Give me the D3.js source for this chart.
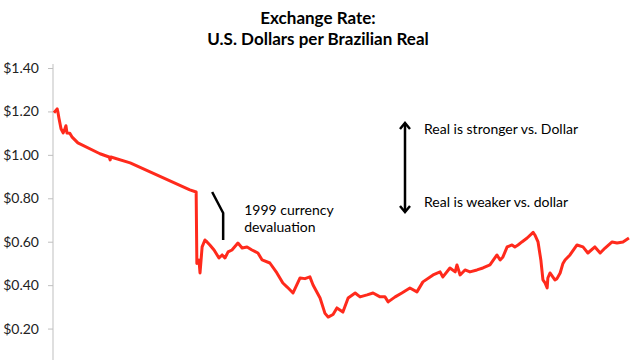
<!DOCTYPE html>
<html>
<head>
<meta charset="utf-8">
<script src="https://cdn.jsdelivr.net/npm/d3@7"></script>
<style>
  html, body { margin: 0; padding: 0; background: #fff; }
  svg { display: block; font-family: Lato, "Open Sans", sans-serif; }
</style>
</head>
<body>
<svg id="chart" width="640" height="360"></svg>
<script>
const titleLines = ["Exchange Rate:", "U.S. Dollars per Brazilian Real"];
const yTicks = [0.2, 0.4, 0.6, 0.8, 1.0, 1.2, 1.4];
const years = [
  1995.00, 1995.09, 1995.11, 1995.14, 1995.20, 1995.26, 1995.30, 1995.34, 1995.37, 1995.45,
  1995.51, 1995.68, 1996.31, 1996.57, 1996.60, 1996.62, 1997.17, 1998.87, 1999.05, 1999.07,
  1999.13, 1999.16, 1999.22, 1999.30, 1999.36, 1999.44, 1999.56, 1999.70, 1999.79, 1999.87,
  1999.96, 2000.07, 2000.24, 2000.36, 2000.50, 2000.64, 2000.81, 2000.93, 2001.15, 2001.35,
  2001.52, 2001.65, 2001.81, 2002.01, 2002.15, 2002.29, 2002.38, 2002.58, 2002.72, 2002.81,
  2002.95, 2003.06, 2003.23, 2003.38, 2003.58, 2003.72, 2003.92, 2004.09, 2004.29, 2004.43,
  2004.52, 2004.72, 2004.91, 2005.14, 2005.34, 2005.51, 2005.80, 2006.00, 2006.08, 2006.28,
  2006.43, 2006.48, 2006.57, 2006.71, 2006.85, 2007.05, 2007.22, 2007.42, 2007.62, 2007.71,
  2007.79, 2007.91, 2008.05, 2008.13, 2008.22, 2008.33, 2008.48, 2008.65, 2008.70, 2008.79,
  2008.87, 2008.93, 2008.99, 2009.05, 2009.07, 2009.13, 2009.27, 2009.33, 2009.42, 2009.50,
  2009.56, 2009.70, 2009.90, 2010.07, 2010.21, 2010.41, 2010.56, 2010.70, 2010.90, 2011.04,
  2011.21, 2011.38
];
const usdPerReal = [
  1.194, 1.212, 1.198, 1.170, 1.120, 1.101, 1.115, 1.134, 1.101, 1.100,
  1.083, 1.055, 1.005, 0.990, 0.977, 0.990, 0.963, 0.839, 0.829, 0.500,
  0.516, 0.456, 0.576, 0.608, 0.599, 0.585, 0.562, 0.525, 0.539, 0.525,
  0.553, 0.562, 0.594, 0.571, 0.576, 0.562, 0.548, 0.516, 0.502, 0.456,
  0.410, 0.390, 0.364, 0.433, 0.430, 0.438, 0.401, 0.341, 0.270, 0.253,
  0.265, 0.295, 0.276, 0.341, 0.364, 0.346, 0.355, 0.364, 0.346, 0.346,
  0.323, 0.346, 0.364, 0.387, 0.369, 0.415, 0.447, 0.461, 0.438, 0.479,
  0.461, 0.493, 0.447, 0.470, 0.461, 0.470, 0.479, 0.493, 0.539, 0.516,
  0.530, 0.576, 0.585, 0.576, 0.585, 0.599, 0.617, 0.643, 0.631, 0.599,
  0.516, 0.424, 0.410, 0.387, 0.433, 0.456, 0.424, 0.430, 0.456, 0.500,
  0.516, 0.539, 0.585, 0.576, 0.548, 0.576, 0.548, 0.571, 0.599, 0.594,
  0.599, 0.617
];
const annotations = {
  devaluation: ["1999 currency", "devaluation"],
  stronger: "Real is stronger vs. Dollar",
  weaker: "Real is weaker vs. dollar"
};

const data = years.map((y, i) => ({ year: y, value: usdPerReal[i] }));

const svg = d3.select("#chart");
const x = d3.scaleLinear().domain([1995, 2011.41]).range([54, 630]);
const y = d3.scaleLinear().domain([0, 1.4]).range([372, 68]);

// Title
svg.append("g").selectAll("text").data(titleLines).join("text")
  .attr("x", 318).attr("y", (d, i) => 24 + i * 21)
  .attr("text-anchor", "middle")
  .attr("font-size", 17).attr("font-weight", "bold").attr("fill", "#000")
  .text(d => d);

// Y axis
const yAxis = svg.append("g").attr("transform", "translate(53,0)")
  .call(d3.axisLeft(y).tickValues(yTicks).tickSize(5).tickPadding(9).tickFormat(d3.format("$.2f")));
yAxis.select(".domain").attr("stroke", "#bfbfbf").attr("d", "M0,64V360");
yAxis.selectAll(".tick line").attr("stroke", "#bfbfbf");
yAxis.selectAll(".tick text").attr("font-size", 14).attr("fill", "#222")
  .attr("font-family", "Lato, sans-serif");

// Line
svg.append("path").datum(data)
  .attr("fill", "none").attr("stroke", "#ff2a1c").attr("stroke-width", 3)
  .attr("stroke-linejoin", "round")
  .attr("d", d3.line().x(d => x(d.year)).y(d => y(d.value)));

// Devaluation pointer
const pYear = 1999.05, pVal = 0.829;
svg.append("path")
  .attr("fill", "none").attr("stroke", "#000").attr("stroke-width", 2.5)
  .attr("d", `M${x(pYear) + 16},${y(pVal) + 0}L${x(pYear) + 27},${y(pVal) + 21}V${y(pVal) + 48}`);
svg.append("g").selectAll("text").data(annotations.devaluation).join("text")
  .attr("x", x(pYear) + 48).attr("y", (d, i) => y(pVal) + 23 + i * 17)
  .attr("font-size", 14).attr("fill", "#000").text(d => d);

// Double arrow
const ax = 405, aTop = 122, aBot = 213;
svg.append("path").attr("fill", "none").attr("stroke", "#000").attr("stroke-width", 2.5)
  .attr("d", `M${ax},${aTop + 1}V${aBot - 1}`);
svg.append("path").attr("fill", "none").attr("stroke", "#000").attr("stroke-width", 2.5)
  .attr("stroke-linejoin", "miter")
  .attr("d", `M${ax - 5},${aTop + 7}L${ax},${aTop + 1}L${ax + 5},${aTop + 7}`);
svg.append("path").attr("fill", "none").attr("stroke", "#000").attr("stroke-width", 2.5)
  .attr("d", `M${ax - 5},${aBot - 7}L${ax},${aBot - 1}L${ax + 5},${aBot - 7}`);
svg.append("text").attr("x", 424).attr("y", 134).attr("font-size", 14).attr("fill", "#000").text(annotations.stronger);
svg.append("text").attr("x", 424).attr("y", 207).attr("font-size", 14).attr("fill", "#000").text(annotations.weaker);
</script>
</body>
</html>
